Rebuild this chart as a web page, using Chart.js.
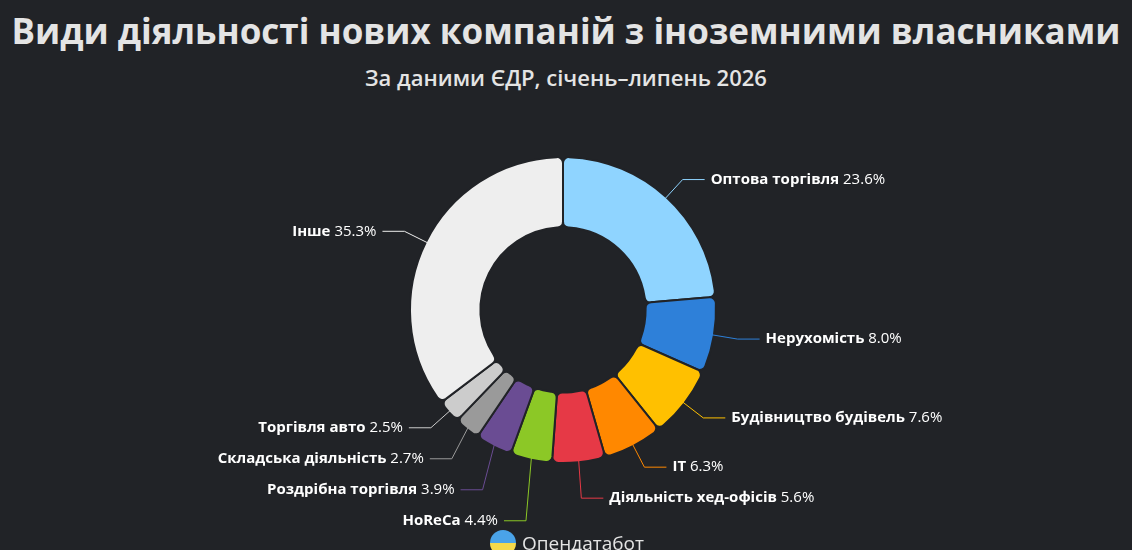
<!DOCTYPE html>
<html><head><meta charset="utf-8">
<script src="https://cdn.jsdelivr.net/npm/chart.js@4"></script>
<style>
html,body{margin:0;background:#212327;width:1132px;height:550px;overflow:hidden;font-family:"Open Sans",sans-serif}
#t{position:absolute;top:7px;width:1132px;text-align:center;color:#e4e4e4;font-weight:700;font-size:35px}
#s{position:absolute;top:62px;width:1132px;text-align:center;color:#e4e4e4;font-size:22px;font-weight:600}
#wrap{position:absolute;left:0;top:0;width:1132px;height:550px}
#logo{position:absolute;top:530px;left:490px;color:#e4e4e4;font-size:19px;display:flex;align-items:center;gap:6px}
#logo span.i{width:26px;height:26px;border-radius:50%;background:linear-gradient(#4aa3e8 50%,#f5d94a 50%)}
</style></head><body>
<div id="t">Види діяльності нових компаній з іноземними власниками</div>
<div id="s">За даними ЄДР, січень–липень 2026</div>
<div id="wrap"><canvas id="c"></canvas></div>
<div id="logo"><span class="i"></span>Опендатабот</div>
<script>
const CATEGORIES = ['Оптова торгівля','Нерухомість','Будівництво будівель','IT','Діяльність хед-офісів','HoReCa','Роздрібна торгівля','Складська діяльність','Торгівля авто','Інше'];
const SHARES = [23.6, 8.0, 7.6, 6.3, 5.6, 4.4, 3.9, 2.7, 2.5, 35.3];
const COLORS = ['#8fd4ff','#2e80d9','#ffc000','#ff8800','#e63946','#8cc826','#6a4c93','#9a9a9a','#cccccc','#eeeeee'];

const LabelPlugin = {
  id: 'sideLabels',
  afterDatasetsDraw(chart) {
    const ctx = chart.ctx;
    const meta = chart.getDatasetMeta(0);
    const items = meta.data.map((arc, i) => {
      const a = (arc.startAngle + arc.endAngle) / 2;
      const r = arc.outerRadius;
      const p0 = { x: arc.x + Math.cos(a) * (r - 2), y: arc.y + Math.sin(a) * (r - 2) };
      const p1 = { x: arc.x + Math.cos(a) * (r + 24), y: arc.y + Math.sin(a) * (r + 24) };
      return { i, p0, p1, right: Math.cos(a) >= 0, y: p1.y };
    });
    [true, false].forEach(side => {
      const list = items.filter(o => o.right === side).sort((a, b) => a.y - b.y);
      for (let k = 1; k < list.length; k++) {
        if (list[k].y - list[k - 1].y < 31) list[k].y = list[k - 1].y + 31;
      }
    });
    items.forEach(o => {
      const dir = o.right ? 1 : -1;
      const ex = o.p1.x, ey = o.y;
      const tx = ex + dir * 22;
      ctx.save();
      ctx.strokeStyle = COLORS[o.i];
      ctx.lineWidth = 1;
      ctx.beginPath();
      ctx.moveTo(o.p0.x, o.p0.y);
      ctx.lineTo(ex, ey);
      ctx.lineTo(tx, ey);
      ctx.stroke();
      const name = CATEGORIES[o.i];
      const pct = ' ' + SHARES[o.i].toFixed(1) + '%';
      ctx.textBaseline = 'middle';
      ctx.font = 'bold 15px "Open Sans"';
      const w1 = ctx.measureText(name).width;
      ctx.font = '15px "Open Sans"';
      const w2 = ctx.measureText(pct).width;
      let x = o.right ? tx + 6 : tx - 6 - w1 - w2;
      ctx.fillStyle = '#ffffff';
      ctx.font = 'bold 15px "Open Sans"';
      ctx.fillText(name, x, ey);
      ctx.font = '15px "Open Sans"';
      ctx.fillText(pct, x + w1, ey);
      ctx.restore();
    });
  }
};

new Chart(document.getElementById('c'), {
  type: 'doughnut',
  data: { labels: CATEGORIES, datasets: [{ data: SHARES, backgroundColor: COLORS, borderColor: '#212327', borderWidth: 2, borderRadius: 6 }] },
  options: {
    responsive: true, maintainAspectRatio: false, animation: false, cutout: '54%',
    layout: { padding: { top: 156, bottom: 86, left: 0, right: 6 } },
    plugins: { legend: { display: false }, tooltip: { enabled: false } }
  },
  plugins: [LabelPlugin]
});
</script>
</body></html>
